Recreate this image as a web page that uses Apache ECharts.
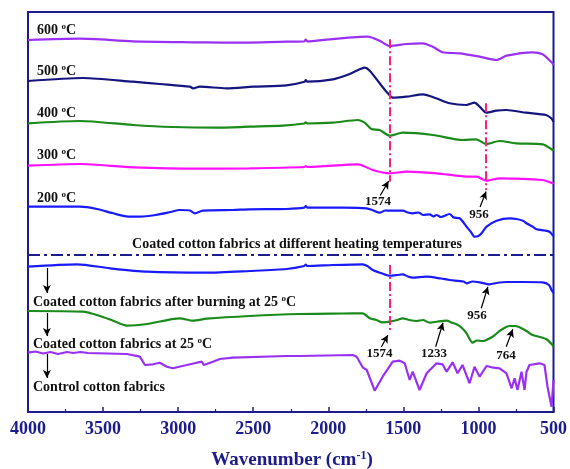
<!DOCTYPE html>
<html><head><meta charset="utf-8">
<script src="https://cdn.jsdelivr.net/npm/echarts@6/dist/echarts.min.js"></script>
<style>html,body{margin:0;padding:0;background:#fff}#c{width:570px;height:469px}</style>
</head><body><div id="c"></div>
<script>
// ---- data (wavenumber, offset transmittance in arbitrary units) ----
const wn600 = [4000,3654,3301,2856,2656,2277,2160,2150,2140,1991,1738,1658,1591,1480,1372,1305,1239,1125,992,879,813,640,573,507,500];
const t600  = [372,373.3,370.7,369.7,369.3,370.3,370.5,372.5,370.7,372.7,375.3,371.3,366,368,368.7,365.3,359.7,358.7,355.3,352,356.3,359.7,357.7,348.7,347];

const wn500 = [4000,3634,3301,3122,2922,2900,2856,2678,2500,2279,2157,2150,2140,1969,1857,1791,1758,1724,1658,1613,1569,1480,1369,1281,1192,1081,1026,992,948,881,815,682,549,515,500];
const t500  = [331,334,330.3,328,325.3,323.7,325.3,323.7,325.3,326.7,330.3,332,330.3,332.7,338,342.7,344.3,341.3,328.7,320.3,314.3,315.3,317.7,313.7,308.7,307,309.3,305.3,299.3,301.3,302,299.3,297,293.7,290.3];

const wn400 = [4000,3654,3301,3035,2742,2523,2301,2160,2150,2140,1969,1802,1758,1713,1658,1591,1503,1303,1104,1015,948,859,748,571,505,500];
const t400  = [288.7,291,287,285,284.3,285.3,286.3,288.5,289.7,288.5,289.3,292,289.3,283,282,276.3,279.3,277,272,272.7,268,271,268.7,267.7,262,261];

const wn300 = [4000,3654,3301,2856,2523,2160,2150,2140,1802,1704,1591,1478,1279,1059,1012,946,859,573,507,500];
const t300  = [246.3,248,244.7,243.3,243.7,245,246,245,247.7,242,238.7,240.3,238.7,235.3,235.3,231.3,233.7,232,228.7,228];

const wn200 = [4000,3654,3541,3434,3321,3255,3150,3050,2989,2922,2889,2836,2636,2523,2277,2160,2150,2140,2077,1900,1744,1700,1658,1620,1591,1505,1470,1438,1400,1370,1325,1300,1279,1250,1192,1170,1159,1125,1079,1050,1026,1000,979,946,879,793,746,700,680,640,613,560,527,507,500];
const t200  = [205.3,205.3,203,198.7,195.3,195.3,197,200,202,201.5,198.7,201.3,202,202.7,203,204.3,206,204.3,204.3,204.3,203.7,201.5,199.3,201.5,201.3,201.3,199.5,198.7,199.5,197,197.7,195.5,197,195,198,195,194.3,193.7,185.3,180,175.3,176,178.7,185.3,191.3,193.7,193,191,188.7,185.5,182.7,181.5,180.3,177,176];

const wnBurn = [4000,3674,3454,3208,2809,2523,2277,2160,2150,2140,1971,1771,1740,1704,1650,1591,1540,1505,1470,1438,1345,1250,1192,1100,1079,1040,992,926,880,813,700,573,530,513,500];
const tBurn  = [145.3,147.7,143.7,140.3,139.3,141,143,146,147.5,146,147,147.7,146,142,139,136.3,137,137.7,135.5,134.3,135.3,133.5,132,130.5,128.7,130.5,129.7,127.7,129,130,130,129.7,127,122,119];

const wnCoat = [4000,3634,3521,3434,3341,3208,2989,2902,2809,2523,2190,1900,1771,1724,1680,1638,1591,1540,1505,1460,1412,1370,1325,1270,1212,1180,1145,1110,1079,1039,1010,972,906,850,793,760,726,680,640,590,547,507,500];
const tCoat  = [101,100.3,96,91.3,86.3,88,93.7,91.3,93.3,96,98,98.5,98.7,93.7,92,89.7,90.3,92,93.7,92,91,92,89.3,90.5,91.3,89.5,87.7,84,78.7,69.3,71.5,71,75.3,82,86,86,84.7,81,77,75,72.7,67,65];

const wnCtrl = [4000,3950,3900,3850,3800,3740,3700,3650,3600,3341,3255,3221,3208,3168,3122,3075,3035,2942,2875,2842,2829,2769,2722,2636,2277,2190,1837,1811,1771,1744,1691,1638,1571,1525,1491,1458,1438,1392,1345,1279,1239,1212,1172,1139,1106,1059,1026,992,946,912,859,813,779,759,740,713,693,680,660,593,560,540,513,500];
const tCtrl  = [59.3,60.5,58.5,60,58,60,59,60,59,58,55.3,47,45.3,47.7,49.3,45.3,43.7,47,49.3,50.3,47,50.3,53,54.3,56,56,57,55.3,44.7,42,21.3,35.3,50.3,51.3,48.7,32,40.3,22,38.7,48.7,47.7,40.3,49.7,38.7,47,28.7,45.3,35.3,46,44.7,43.7,38.7,23.7,33.7,22,40.3,22,40,47,48.7,47,25.3,5.3,32];

const xTicks = [4000,3500,3000,2500,2000,1500,1000,500];

// ---- styling ----
const NAVY = '#1c1c8c';
const PINK = '#ff1f78';
const FONT = '"Liberation Serif","Times New Roman",serif';
const pair = (w, t) => w.map((x, i) => [x, t[i]]);

function line(name, w, t, color, extra) {
  return Object.assign({
    name, type: 'line', data: pair(w, t), showSymbol: false, symbol: 'none',
    smooth: 0.25,
    lineStyle: { color, width: 2.2 }, silent: true, animation: false, z: 3
  }, extra || {});
}

function seg(x1, y1, x2, y2) { return [{ coord: [x1, y1] }, { coord: [x2, y2] }]; }

const arrowLines = {
  silent: true, animation: false, symbol: ['none', 'arrow'], symbolSize: [6, 8],
  label: { show: false }, lineStyle: { color: '#000', width: 1.2, type: 'solid' },
  data: [
    seg(1654, 216.5, 1598, 231), seg(989, 205, 949, 220.5),
    seg(981, 103.7, 937, 125.3), seg(1646, 65.3, 1603, 77),
    seg(1285, 65.3, 1236, 89.3), seg(815, 65.3, 771, 82.7),
    seg(3874, 144, 3874, 119), seg(3874, 99, 3874, 76), seg(3874, 58, 3874, 34)
  ]
};
const pinkLines = {
  silent: true, animation: false, symbol: ['none', 'none'],
  label: { show: false }, lineStyle: { color: PINK, width: 2, type: [9, 3, 2, 3] },
  data: [ seg(1592, 372.7, 1592, 230.3), seg(950, 308.7, 950, 222), seg(1592, 147, 1592, 80.3) ]
};
const sepLine = {
  silent: true, animation: false, symbol: ['none', 'none'],
  label: { show: false }, lineStyle: { color: NAVY, width: 2, type: [12, 4, 3, 4] },
  data: [ seg(4000, 157.7, 500, 157.7) ]
};

const rich = (fs) => ({
  t: { fontSize: fs, fontWeight: 'bold', fontFamily: FONT, fill: '#111', lineHeight: fs + 2 },
  s: { fontSize: Math.round(fs * 0.65), fontWeight: 'bold', fontFamily: FONT, fill: '#111', lineHeight: Math.round(fs * 0.65), verticalAlign: 'top' }
});
function txt(text, x, y, fs, align, color) {
  const r = rich(fs);
  if (color) { r.t.fill = color; r.s.fill = color; }
  return { type: 'text', x, y, silent: true, z: 10,
    style: { text, rich: r, align: align || 'left', verticalAlign: 'middle' } };
}

const chart = echarts.init(document.getElementById('c'), null, { renderer: 'canvas' });
chart.setOption({
  animation: false,
  backgroundColor: '#fff',
  grid: { left: 28, right: 16, top: 12, bottom: 57, show: true, borderColor: NAVY, borderWidth: 2, containLabel: false },
  xAxis: {
    type: 'value', min: 500, max: 4000, interval: 500, inverse: true,
    axisLine: { show: true, lineStyle: { color: NAVY, width: 2 } },
    axisTick: { show: true, inside: true, length: 5, lineStyle: { color: NAVY, width: 1.5 } },
    minorTick: { show: true, splitNumber: 2, length: 3, lineStyle: { color: NAVY, width: 1.2 } },
    splitLine: { show: false },
    axisLabel: { color: NAVY, fontSize: 18, fontWeight: 'bold', fontFamily: FONT, margin: 8,
      formatter: v => xTicks.includes(v) ? String(v) : '' }
  },
  yAxis: { type: 'value', min: 0, max: 400, show: false },
  series: [
    line('600 °C', wn600, t600, '#9b30f5'),
    line('500 °C', wn500, t500, '#15157f'),
    line('400 °C', wn400, t400, '#1a8a1a'),
    line('300 °C', wn300, t300, '#ff10ff', { markLine: pinkLines }),
    line('200 °C', wn200, t200, '#1a1aff', { markLine: sepLine }),
    line('Coated cotton fabrics after burning at 25 °C', wnBurn, tBurn, '#1a1aff', { markLine: arrowLines }),
    line('Coated cotton fabrics at 25 °C', wnCoat, tCoat, '#1a8a1a'),
    line('Control cotton fabrics', wnCtrl, tCtrl, '#9b30f5', { smooth: false })
  ],
  graphic: [
    txt('{t|600 }{s|o}{t|C}', 37, 30, 14),
    txt('{t|500 }{s|o}{t|C}', 37, 71.5, 14),
    txt('{t|400 }{s|o}{t|C}', 37, 113, 14),
    txt('{t|300 }{s|o}{t|C}', 37, 155, 14),
    txt('{t|200 }{s|o}{t|C}', 37, 198, 14),
    txt('{t|Coated cotton fabrics at different heating temperatures}', 297, 244.5, 14, 'center'),
    txt('{t|Coated cotton fabrics after burning at 25 }{s|o}{t|C}', 33, 302, 14),
    txt('{t|Coated cotton fabrics at 25 }{s|o}{t|C}', 33, 344.5, 14),
    txt('{t|Control cotton fabrics}', 33, 387, 14),
    txt('{t|1574}', 378, 202, 13, 'center'),
    txt('{t|956}', 479, 214.5, 13, 'center'),
    txt('{t|956}', 477, 316, 13, 'center'),
    txt('{t|1574}', 379.5, 354, 13, 'center'),
    txt('{t|1233}', 434, 354, 13, 'center'),
    txt('{t|764}', 506, 355.5, 13, 'center'),
    txt('{t|Wavenumber (cm}{s|-1}{t|)}', 292, 460, 19, 'center', NAVY)
  ]
});
</script></body></html>
